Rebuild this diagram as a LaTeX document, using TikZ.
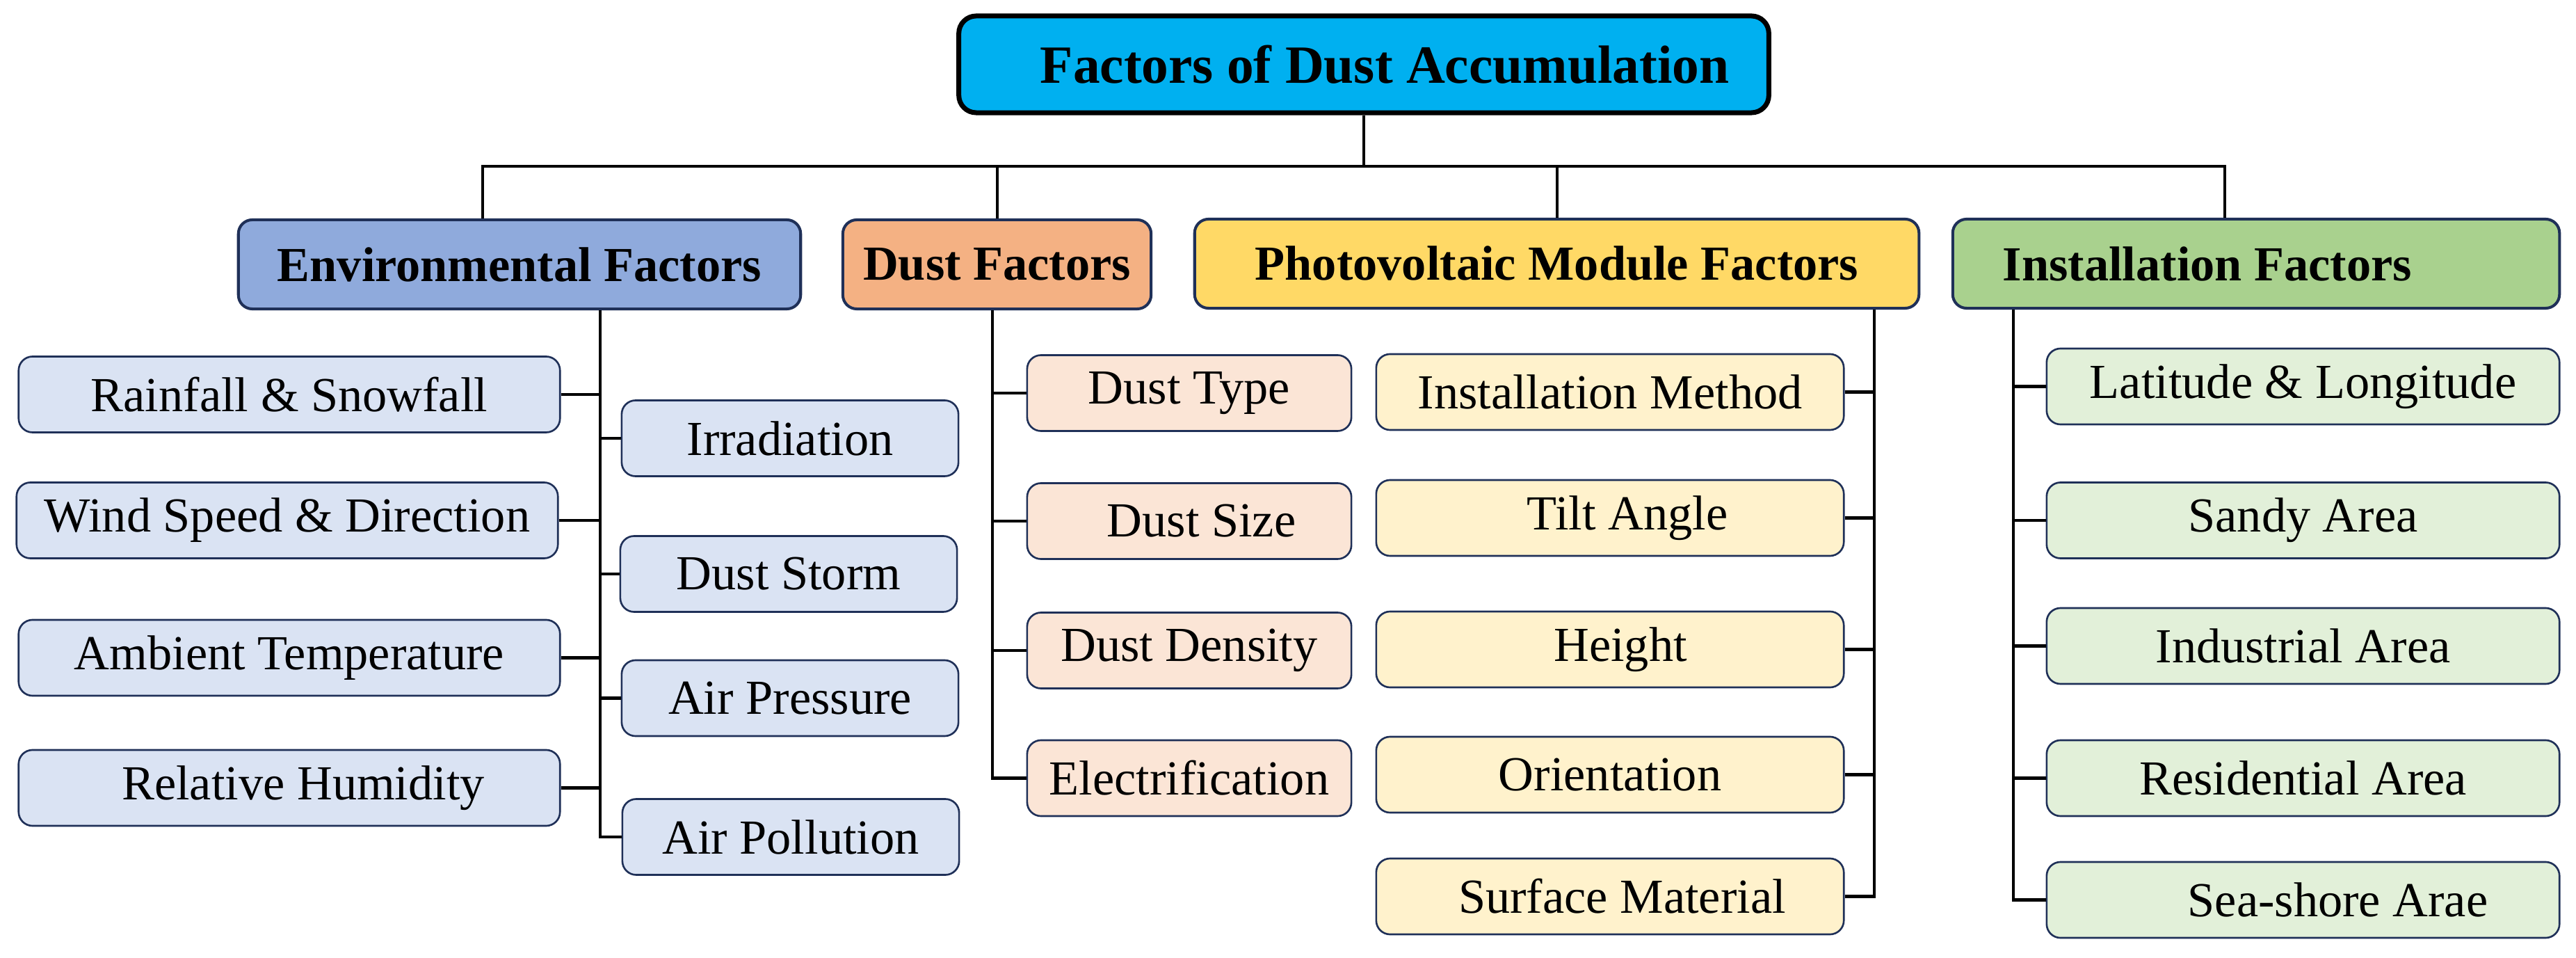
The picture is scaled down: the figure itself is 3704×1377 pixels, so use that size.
\documentclass[tikz,border=0pt]{standalone}
\usepackage{fontspec}
\setmainfont{Liberation Serif}
\definecolor{navy}{HTML}{1F3058}
\definecolor{topfill}{HTML}{00B0F0}
\definecolor{envdark}{HTML}{8FAADC}
\definecolor{envlight}{HTML}{DAE3F3}
\definecolor{dustdark}{HTML}{F4B183}
\definecolor{dustlight}{HTML}{FBE5D6}
\definecolor{pvdark}{HTML}{FFD966}
\definecolor{pvlight}{HTML}{FFF2CC}
\definecolor{instdark}{HTML}{A9D18E}
\definecolor{instlight}{HTML}{E2F0D9}
\tikzset{
  px/.style={x=0.01cm,y=-0.01cm},
  basebox/.style={draw=navy, rounded corners=0.2cm, inner sep=0pt, align=center, text=black},
  topbox/.style={draw=black, line width=2pt, fill=topfill, rounded corners=0.25cm, inner sep=0pt,
    minimum width=11.64cm, minimum height=1.39cm, font=\fontsize{22}{26}\selectfont\bfseries},
  catbox/.style={basebox, line width=1.15pt, minimum height=1.28cm, font=\fontsize{20}{24}\selectfont\bfseries},
  itembox/.style={basebox, line width=0.75pt, minimum height=1.09cm, font=\fontsize{20}{24}\selectfont},
  envitemL/.style={itembox, fill=envlight, minimum width=7.78cm},
  envitemR/.style={itembox, fill=envlight, minimum width=4.84cm},
  dustitem/.style={itembox, fill=dustlight, minimum width=4.66cm},
  pvitem/.style={itembox, fill=pvlight, minimum width=6.72cm},
  institem/.style={itembox, fill=instlight, minimum width=7.37cm},
  link/.style={line width=1.15pt, black},
  stub/.style={line width=1.35pt, black},
}
\begin{document}
\begin{tikzpicture}[px]
\useasboundingbox (0,0) rectangle (3704,1377);
% top
\node[topbox] (top) at (1961,92.5) {\hspace*{0.6cm}Factors of Dust Accumulation};
% categories
\node[catbox, fill=envdark, minimum width=8.08cm] (env) at (747,380) {Environmental Factors};
\node[catbox, fill=dustdark, minimum width=4.43cm] (dust) at (1433.5,380) {Dust Factors};
\node[catbox, fill=pvdark, minimum width=10.41cm] (pv) at (2238.5,379) {Photovoltaic Module Factors};
\node[catbox, fill=instdark, minimum width=8.72cm] (inst) at (3244,379) {Installation Factors\hspace*{1.4cm}};
% bus
\coordinate (busL) at (694,239);
\coordinate (busR) at (3199,239);
\draw[link] (env.north -| busL) |- (busR) -- (inst.north -| busR);
\draw[link] (top.south) -- (top.south |- busL);
\draw[link] (dust.north) -- (dust.north |- busL);
\draw[link] (pv.north) -- (pv.north |- busL);
% environmental items
\node[envitemL] (rain) at (416,567) {Rainfall \& Snowfall};
\node[envitemL] (wind) at (413,748) {Wind Speed \& Direction};
\node[envitemL] (amb) at (416,945.5) {Ambient Temperature};
\node[envitemL] (hum) at (416,1132.5) {\hspace*{0.4cm}Relative Humidity};
\node[envitemR] (irr) at (1136,630) {Irradiation};
\node[envitemR] (storm) at (1134,825) {Dust Storm};
\node[envitemR] (press) at (1136,1003.5) {Air Pressure};
\node[envitemR] (poll) at (1137,1203) {Air Pollution};
\coordinate (envx) at (863,0);
\draw[link] (env.south -| envx) |- (poll.west);
\foreach \n in {rain,wind,amb,hum} \draw[stub] (\n.east) -- (\n.east -| envx);
\foreach \n in {irr,storm,press} \draw[stub] (\n.west) -- (\n.west -| envx);
% dust items
\node[dustitem] (dtype) at (1710,565) {Dust Type};
\node[dustitem] (dsize) at (1710,749) {\hspace*{0.35cm}Dust Size};
\node[dustitem] (ddens) at (1710,935) {Dust Density};
\node[dustitem] (delec) at (1710,1118.5) {Electrification};
\coordinate (dustx) at (1427,0);
\draw[link] (dust.south -| dustx) |- (delec.west);
\foreach \n in {dtype,dsize,ddens} \draw[stub] (\n.west) -- (\n.west -| dustx);
% pv items
\node[pvitem] (pmeth) at (2315,563.5) {Installation Method};
\node[pvitem] (ptilt) at (2315,744.5) {\hspace*{0.5cm}Tilt Angle};
\node[pvitem] (pheight) at (2315,933.5) {\hspace*{0.3cm}Height};
\node[pvitem] (porient) at (2315,1113.5) {Orientation};
\node[pvitem] (psurf) at (2315,1288.5) {\hspace*{0.35cm}Surface Material};
\coordinate (pvx) at (2695,0);
\draw[link] (pv.south -| pvx) |- (psurf.east);
\foreach \n in {pmeth,ptilt,pheight,porient} \draw[stub] (\n.east) -- (\n.east -| pvx);
% installation items
\node[institem] (ilat) at (3311.5,555.5) {Latitude \& Longitude};
\node[institem] (isandy) at (3311.5,748) {Sandy Area};
\node[institem] (iind) at (3311.5,928.5) {Industrial Area};
\node[institem] (ires) at (3311.5,1118.5) {Residential Area};
\node[institem] (isea) at (3311.5,1293.5) {\hspace*{1.0cm}Sea-shore Arae};
\coordinate (instx) at (2895,0);
\draw[link] (inst.south -| instx) |- (isea.west);
\foreach \n in {ilat,isandy,iind,ires} \draw[stub] (\n.west) -- (\n.west -| instx);
\end{tikzpicture}
\end{document}
